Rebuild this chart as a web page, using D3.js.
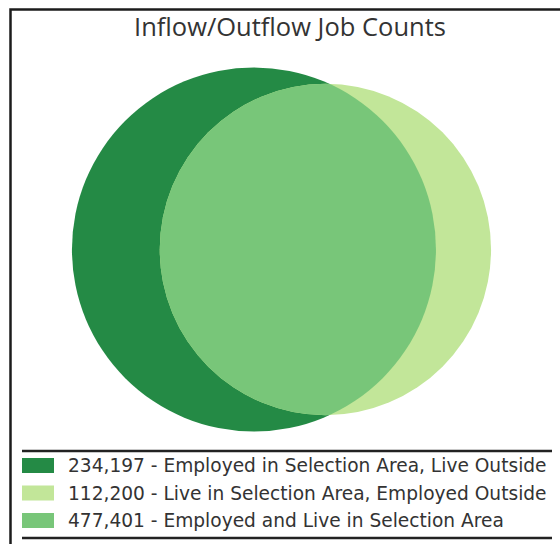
<!DOCTYPE html>
<html>
<head>
<meta charset="utf-8">
<script src="https://cdn.jsdelivr.net/npm/d3@7"></script>
<style>
  html, body { margin: 0; padding: 0; background: #fff; }
  svg { display: block; }
</style>
</head>
<body>
<svg id="chart" width="560" height="544"></svg>
<script>
// ---- data ----
const title = "Inflow/Outflow Job Counts";
const categories = [
  "Employed in Selection Area, Live Outside",
  "Live in Selection Area, Employed Outside",
  "Employed and Live in Selection Area"
];
const values = [234197, 112200, 477401];
const colors = ["#248a45", "#c2e699", "#78c679"];

// ---- layout ----
const W = 560, H = 544;
const svg = d3.select("#chart");
const fmt = d3.format(",");

// frame (extends beyond the picture on the right and bottom)
svg.append("rect")
  .attr("x", 10.5).attr("y", 9.5)
  .attr("width", 700).attr("height", 700)
  .attr("fill", "none").attr("stroke", "#1c1c1c").attr("stroke-width", 2.5);

svg.append("text")
  .attr("x", 290).attr("y", 36)
  .attr("text-anchor", "middle")
  .attr("font-family", "'Open Sans', sans-serif")
  .attr("font-size", 25.5)
  .attr("fill", "#333")
  .text(title);

// Venn: circle A = employed in area (outside-living + both), circle B = living in area (employed outside + both)
const areaA = values[0] + values[2];
const areaB = values[1] + values[2];
const overlap = values[2];

const rScale = d3.scaleSqrt().domain([0, areaA]).range([0, 182]);
const rA = rScale(areaA), rB = rScale(areaB);
const k = Math.PI * rA * rA / areaA; // px^2 per unit

function lens(d, r1, r2) {
  if (d >= r1 + r2) return 0;
  if (d <= Math.abs(r1 - r2)) return Math.PI * Math.min(r1, r2) ** 2;
  const a1 = Math.acos((d * d + r1 * r1 - r2 * r2) / (2 * d * r1));
  const a2 = Math.acos((d * d + r2 * r2 - r1 * r1) / (2 * d * r2));
  const t = Math.sqrt((-d + r1 + r2) * (d + r1 - r2) * (d - r1 + r2) * (d + r1 + r2));
  return r1 * r1 * a1 + r2 * r2 * a2 - 0.5 * t;
}
const target = overlap * k;
let lo = Math.abs(rA - rB), hi = rA + rB;
for (let i = 0; i < 60; i++) {
  const mid = (lo + hi) / 2;
  if (lens(mid, rA, rB) > target) lo = mid; else hi = mid;
}
const dist = (lo + hi) / 2;

const cy = 249.5;
const span = rA + dist + rB;
const cxA = 281.5 - span / 2 + rA;
const cxB = cxA + dist;

const defs = svg.append("defs");
defs.append("clipPath").attr("id", "clipA")
  .append("circle").attr("cx", cxA).attr("cy", cy).attr("r", rA);

const circles = [
  { cx: cxA, r: rA, fill: colors[0] },
  { cx: cxB, r: rB, fill: colors[1] }
];
svg.append("g").selectAll("circle").data(circles).join("circle")
  .attr("cx", d => d.cx).attr("cy", cy).attr("r", d => d.r)
  .attr("fill", d => d.fill);

svg.append("circle")
  .attr("cx", cxB).attr("cy", cy).attr("r", rB)
  .attr("clip-path", "url(#clipA)")
  .attr("fill", colors[2]);

// ---- legend ----
const lg = svg.append("g");
lg.append("line").attr("x1", 22).attr("x2", 552).attr("y1", 451).attr("y2", 451)
  .attr("stroke", "#222").attr("stroke-width", 2.5);
lg.append("line").attr("x1", 22).attr("x2", 552).attr("y1", 538).attr("y2", 538)
  .attr("stroke", "#222").attr("stroke-width", 2.5);

const rowY = d3.scalePoint().domain(d3.range(values.length)).range([465.5, 520.5]);
const rows = lg.selectAll("g.row").data(values.map((v, i) => ({ v, i }))).join("g")
  .attr("class", "row")
  .attr("transform", d => `translate(0,${rowY(d.i)})`);
rows.append("rect")
  .attr("x", 22).attr("y", -7.5).attr("width", 32).attr("height", 15)
  .attr("fill", d => colors[d.i]);
rows.append("text")
  .attr("x", 68).attr("y", 6.5)
  .attr("font-family", "'DejaVu Sans', sans-serif")
  .attr("font-size", 18.6)
  .attr("fill", "#333")
  .text(d => `${fmt(d.v)} - ${categories[d.i]}`);
</script>
</body>
</html>
